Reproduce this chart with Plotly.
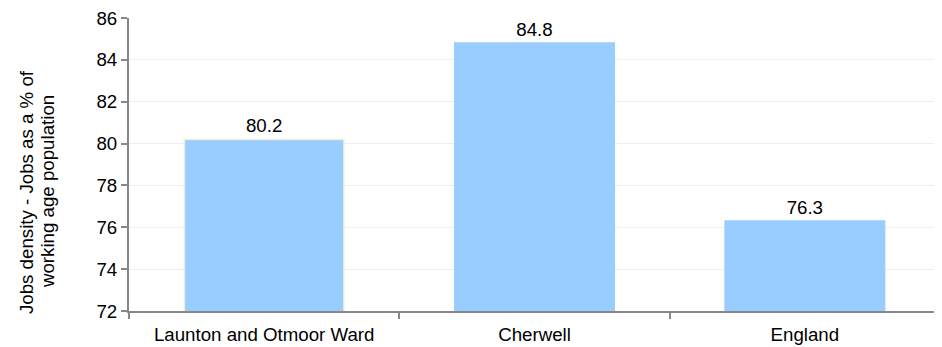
import plotly.graph_objects as go

categories = ["Launton and Otmoor Ward", "Cherwell", "England"]
values = [80.2, 84.8, 76.3]
labels = ["80.2", "84.8", "76.3"]
y_ticks = [72, 74, 76, 78, 80, 82, 84, 86]
y_title_lines = ["Jobs density - Jobs as a % of", "working age population"]

fig = go.Figure(go.Bar(
    x=categories, y=values, text=labels, textposition="outside",
    textfont=dict(size=18.7, color="#000000"),
    marker=dict(color="#99CCFF", line=dict(color=["#EEEEDD", "#99CCFF", "#99CCFF"], width=1.5)),
    width=0.59, cliponaxis=False,
))
fig.update_layout(
    width=942, height=347,
    margin=dict(l=121, r=10, t=10, b=44, autoexpand=False),
    paper_bgcolor="white", plot_bgcolor="white",
    font=dict(family="Liberation Sans, Arial, sans-serif", size=18.7, color="#000000"),
    showlegend=False,
    xaxis=dict(showline=True, linecolor="#888888", linewidth=2, ticks="outside",
               tickson="boundaries", ticklen=6, tickcolor="#888888", tickwidth=2,
               tickfont=dict(size=18.7), showgrid=False, ticklabelstandoff=6),
    yaxis=dict(range=[72, 86], tickvals=y_ticks, showline=True, linecolor="#888888",
               linewidth=2, ticks="outside", ticklen=6, tickcolor="#888888", tickwidth=2,
               gridcolor="#EEEEEE", gridwidth=1, tickfont=dict(size=18.7),
               ticklabeloverflow="allow"),
)
for line, shift in zip(y_title_lines, [-103, -82]):
    fig.add_annotation(text=line, xref="paper", yref="paper", x=0, y=0.406,
                       xanchor="center", yanchor="middle", xshift=shift,
                       textangle=-90, showarrow=False, font=dict(size=18.7, color="#000000"))
fig.write_html("out.html")
